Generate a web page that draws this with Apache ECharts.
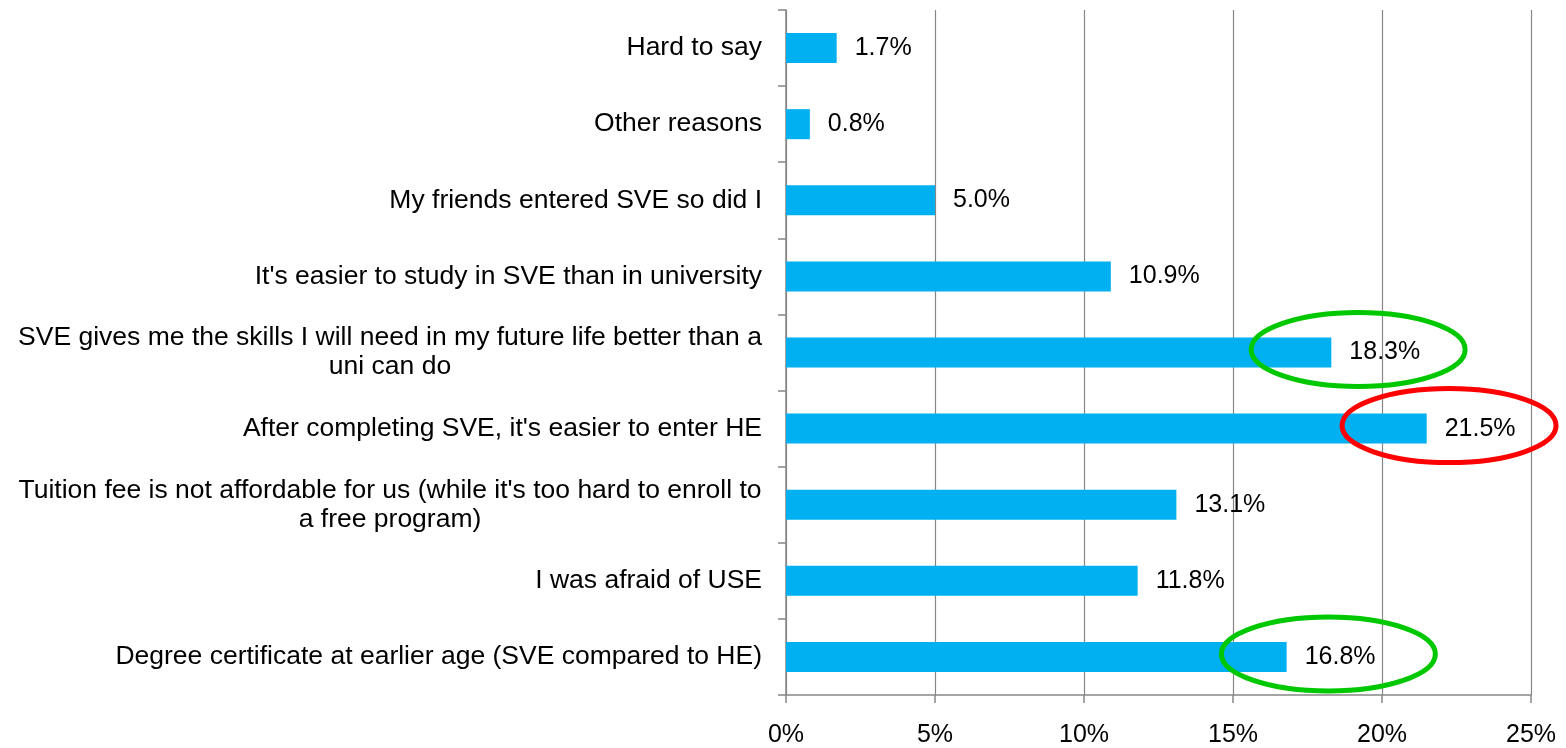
<!DOCTYPE html>
<html>
<head>
<meta charset="utf-8">
<script src="https://cdn.jsdelivr.net/npm/echarts@6/dist/echarts.min.js"></script>
<style>
    html, body { margin:0; padding:0; background:#fff; }
    #main { width:1566px; height:748px; }
</style>
</head>
<body>
<div id="main"></div>
<script>
// categories top to bottom
var categories = [
    'Hard to say',
    'Other reasons',
    'My friends entered SVE so did I',
    "It's easier to study in SVE than in university",
    'SVE gives me the skills I will need in my future life better than a\nuni can do',
    "After completing SVE, it's easier to enter HE",
    "Tuition fee is not affordable for us (while it's too hard to enroll to\na free program)",
    'I was afraid of USE',
    'Degree certificate at earlier age (SVE compared to HE)'
];
var values = [1.7, 0.8, 5.0, 10.9, 18.3, 21.5, 13.1, 11.8, 16.8];
var xTicks = [0, 5, 10, 15, 20, 25];

// highlight circles drawn on the picture: [category index, centre in %, colour]
var highlights = [
    [4, 19.2, '#00c800'],
    [5, 22.25, '#ff0000'],
    [8, 18.2, '#00c800']
];

var FONT = 'Liberation Sans, Arial, sans-serif';
var FS = 26.5; // category labels
var FS2 = 25;  // value + tick labels

var ctx = document.createElement('canvas').getContext('2d');
ctx.font = FS + 'px ' + FONT;
function textWidth(s) { return Math.ceil(ctx.measureText(s).width); }

var option = {
    animation: false,
    grid: {
        left: 786,
        right: 35,
        top: 10,
        bottom: 51
    },
    xAxis: {
        type: 'value',
        min: 0,
        max: 25,
        interval: 5,
        axisLine: { show: true, lineStyle: { color: '#868686', width: 1.5 } },
        axisTick: { show: true, length: 8, lineStyle: { color: '#868686', width: 1.5 } },
        splitLine: { show: true, lineStyle: { color: '#868686', width: 1.2 } },
        axisLabel: {
            margin: 28,
            color: '#000',
            fontFamily: FONT,
            fontSize: FS2,
            formatter: function (v) {
                return xTicks.indexOf(v) >= 0 ? v + '%' : '';
            }
        }
    },
    yAxis: {
        type: 'category',
        inverse: true,
        data: categories,
        axisLine: { show: true, lineStyle: { color: '#868686', width: 1.5 } },
        axisTick: { show: true, length: 8, lineStyle: { color: '#868686', width: 1.5 } },
        axisLabel: {
            margin: 24,
            color: '#000',
            fontFamily: FONT,
            fontSize: FS,
            lineHeight: 29,
            formatter: function (v) {
                var lines = v.split('\n');
                if (lines.length == 1) return v;
                return lines.map(function (l) { return '{c|' + l + '}'; }).join('\n');
            },
            rich: {
                c: {
                    fontFamily: FONT,
                    fontSize: FS,
                    lineHeight: 29,
                    color: '#000',
                    align: 'center',
                    width: 0
                }
            }
        }
    },
    series: [{
        type: 'bar',
        data: values,
        barWidth: 30,
        itemStyle: { color: '#00b0f0' },
        label: {
            show: true,
            position: 'right',
            distance: 18,
            color: '#000',
            fontFamily: FONT,
            fontSize: FS2,
            formatter: function (p) { return p.value.toFixed(1) + '%'; }
        }
    }]
};

// rich width = longest line of the multi-line labels
var maxW = 0;
categories.forEach(function (c) {
    if (c.indexOf('\n') >= 0) {
        c.split('\n').forEach(function (l) { maxW = Math.max(maxW, textWidth(l)); });
    }
});
option.yAxis.axisLabel.rich.c.width = maxW;

var chart = echarts.init(document.getElementById('main'));
chart.setOption(option);

var ellipses = highlights.map(function (h) {
    var pt = chart.convertToPixel({ gridIndex: 0 }, [h[1], h[0]]);
    return {
        type: 'ellipse',
        shape: { cx: pt[0], cy: pt[1] - 3, rx: 107, ry: 37 },
        style: { fill: null, stroke: h[2], lineWidth: 5 },
        z: 100
    };
});
chart.setOption({ graphic: ellipses });
</script>
</body>
</html>
